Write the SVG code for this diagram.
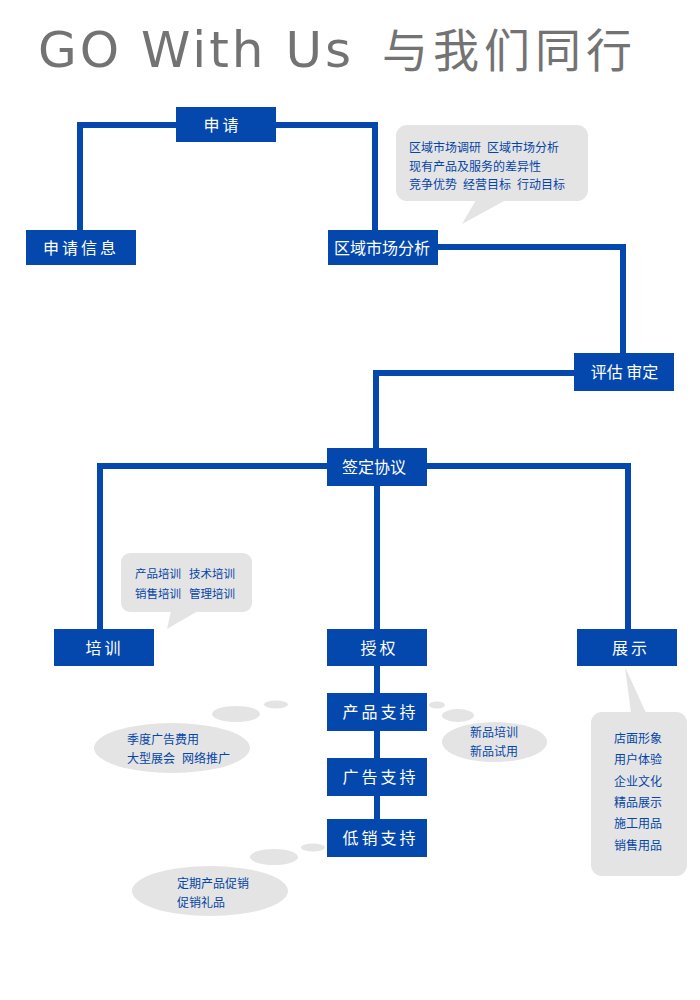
<svg xmlns="http://www.w3.org/2000/svg" width="700" height="1000" viewBox="0 0 700 1000">
<style>
.box{fill:#0448AD}
.bt{fill:#ffffff;font-family:"Noto Sans CJK SC","Noto Sans",sans-serif;font-size:16px;text-anchor:middle}
.sp{letter-spacing:3px}
.ln{fill:none;stroke:#0448AD;stroke-width:6}
.bub{fill:#E4E4E4}
.nt{fill:#0445A8;font-family:"Noto Sans CJK SC","Noto Sans",sans-serif;font-size:12px}
.nt11{font-size:11.5px}
</style>
<rect width="700" height="1000" fill="#ffffff"/>
<g id="title">
<text x="38" y="67" font-family="DejaVu Sans, sans-serif" font-size="50" letter-spacing="3" fill="#737373">GO With Us</text>
<text x="382" y="67" font-family="Noto Sans CJK SC, sans-serif" font-size="46" letter-spacing="5" fill="#737373">与我们同行</text>
</g>
<g id="connectors">
<path class="ln" d="M176 125 H80 V230"/>
<path class="ln" d="M276 125 H375 V230"/>
<path class="ln" d="M438 247 H623 V353"/>
<path class="ln" d="M574 373 H376 V448"/>
<path class="ln" d="M327 466 H100 V629"/>
<path class="ln" d="M427 466 H628 V629"/>
<path class="ln" d="M377 486 V629"/>
<path class="ln" d="M377 666 V819"/>
</g>
<g id="bubble-market">
<rect class="bub" x="396" y="125" width="192" height="76" rx="11"/>
<polygon class="bub" points="476,200 462,224 506,200"/>
<text class="nt" x="409" y="152">区域市场调研<tspan x="487">区域市场分析</tspan></text>
<text class="nt" x="409" y="171">现有产品及服务的差异性</text>
<text class="nt" x="409" y="189">竞争优势<tspan x="463">经营目标</tspan><tspan x="517">行动目标</tspan></text>
</g>
<g id="bubble-training">
<rect class="bub" x="121" y="553" width="131" height="59" rx="9"/>
<polygon class="bub" points="171,611 167,629 198,611"/>
<text class="nt nt11" x="135" y="578">产品培训<tspan x="189">技术培训</tspan></text>
<text class="nt nt11" x="135" y="598">销售培训<tspan x="189">管理培训</tspan></text>
</g>
<g id="bubble-ads">
<ellipse class="bub" cx="276" cy="704.5" rx="12" ry="4"/>
<ellipse class="bub" cx="236" cy="714" rx="24" ry="8"/>
<ellipse class="bub" cx="172" cy="748" rx="78" ry="25"/>
<text class="nt" x="127" y="744">季度广告费用</text>
<text class="nt" x="127" y="763">大型展会<tspan x="182">网络推广</tspan></text>
</g>
<g id="bubble-promo">
<ellipse class="bub" cx="313" cy="847.5" rx="12" ry="4"/>
<ellipse class="bub" cx="274" cy="857" rx="24" ry="8"/>
<ellipse class="bub" cx="210" cy="891" rx="78" ry="25"/>
<text class="nt" x="177" y="888">定期产品促销</text>
<text class="nt" x="177" y="907">促销礼品</text>
</g>
<g id="bubble-newproduct">
<ellipse class="bub" cx="437" cy="705" rx="8" ry="3.5"/>
<ellipse class="bub" cx="458" cy="715.5" rx="16" ry="6.5"/>
<ellipse class="bub" cx="494.5" cy="742" rx="52.5" ry="20"/>
<text class="nt" x="470" y="737">新品培训</text>
<text class="nt" x="470" y="756">新品试用</text>
</g>
<g id="bubble-display">
<polygon class="bub" points="625,667 631,713 646,713"/>
<rect class="bub" x="591" y="712" width="96" height="164" rx="11"/>
<text class="nt" x="614" y="743">店面形象</text>
<text class="nt" x="614" y="764">用户体验</text>
<text class="nt" x="614" y="786">企业文化</text>
<text class="nt" x="614" y="807">精品展示</text>
<text class="nt" x="614" y="828">施工用品</text>
<text class="nt" x="614" y="850">销售用品</text>
</g>
<g id="node-apply"><rect class="box" x="176" y="107" width="100" height="35"/><text class="bt sp" x="222.5" y="130.5">申请</text></g>
<g id="node-apply-info"><rect class="box" x="26" y="230" width="110" height="35"/><text class="bt sp" x="81" y="253.5">申请信息</text></g>
<g id="node-market"><rect class="box" x="328" y="230" width="110" height="35"/><text class="bt" x="382" y="253.5">区域市场分析</text></g>
<g id="node-review"><rect class="box" x="574" y="353" width="100" height="38"/><text class="bt" x="624.5" y="378" xml:space="preserve">评估 审定</text></g>
<g id="node-sign"><rect class="box" x="327" y="448" width="100" height="38"/><text class="bt" x="374" y="473">签定协议</text></g>
<g id="node-training"><rect class="box" x="54" y="629" width="100" height="37"/><text class="bt sp" x="104.5" y="653.5">培训</text></g>
<g id="node-auth"><rect class="box" x="327" y="629" width="100" height="37"/><text class="bt sp" x="379.5" y="653.5">授权</text></g>
<g id="node-display"><rect class="box" x="577" y="629" width="100" height="37"/><text class="bt sp" x="631" y="653.5">展示</text></g>
<g id="node-product-support"><rect class="box" x="327" y="693" width="100" height="38"/><text class="bt sp" x="380.5" y="718">产品支持</text></g>
<g id="node-ad-support"><rect class="box" x="327" y="758" width="100" height="38"/><text class="bt sp" x="380.5" y="783">广告支持</text></g>
<g id="node-promo-support"><rect class="box" x="327" y="819" width="100" height="38"/><text class="bt sp" x="380.5" y="844">低销支持</text></g>
</svg>
